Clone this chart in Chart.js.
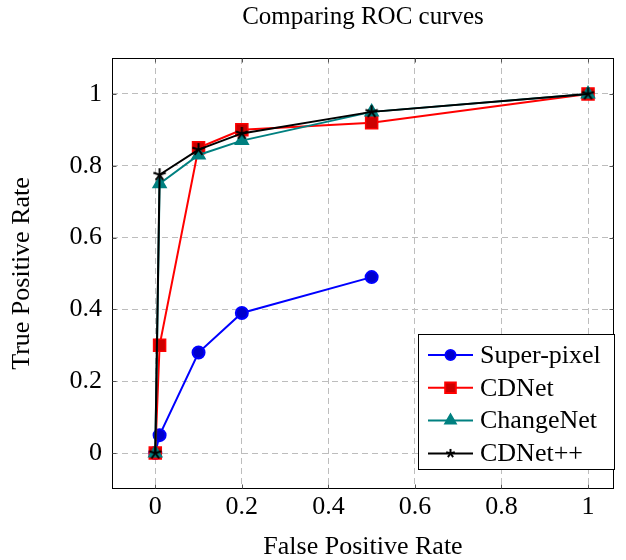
<!DOCTYPE html>
<html>
<head>
<meta charset="utf-8">
<script src="https://cdn.jsdelivr.net/npm/chart.js@4"></script>
<style>
  html, body { margin: 0; padding: 0; background: #fff; }
  #wrap { width: 626px; height: 560px; }
</style>
</head>
<body>
<div id="wrap"><canvas id="rocChart"></canvas></div>
<script>
// data
const seriesNames = ['Super-pixel', 'CDNet', 'ChangeNet', 'CDNet++'];
const superPixelX = [0, 0.01, 0.1, 0.2, 0.5];
const superPixelY = [0, 0.05, 0.28, 0.39, 0.49];
const cdnetX = [0, 0.01, 0.1, 0.2, 0.5, 1];
const cdnetY = [0, 0.30, 0.85, 0.90, 0.92, 1];
const changenetX = [0, 0.01, 0.1, 0.2, 0.5, 1];
const changenetY = [0, 0.75, 0.83, 0.87, 0.95, 1];
const cdnetPPX = [0, 0.01, 0.1, 0.2, 0.5, 1];
const cdnetPPY = [0, 0.775, 0.845, 0.89, 0.95, 1];
const xTicks = [0, 0.2, 0.4, 0.6, 0.8, 1];
const yTicks = [0, 0.2, 0.4, 0.6, 0.8, 1];

const serif = "'Liberation Serif', 'DejaVu Serif', serif";
const fontSize = 26;

function toPoints(xs, ys) {
  return xs.map((x, i) => ({ x: x, y: ys[i] }));
}

// 5 armed asterisk like the pgfplots "star" mark
function makeStar(size) {
  const c = document.createElement('canvas');
  c.width = size; c.height = size;
  const g = c.getContext('2d');
  const r = size / 2 - 1;
  g.strokeStyle = '#000';
  g.lineWidth = 2;
  for (let k = 0; k < 5; k++) {
    const a = -Math.PI / 2 + k * 2 * Math.PI / 5;
    g.beginPath();
    g.moveTo(size / 2, size / 2);
    g.lineTo(size / 2 + r * Math.cos(a), size / 2 + r * Math.sin(a));
    g.stroke();
  }
  return c;
}
const starMark = makeStar(15);
const starSmall = makeStar(11);

// legend drawn inside the plot, bottom right, like pgfplots
const insideLegend = {
  id: 'insideLegend',
  afterDraw(chart) {
    const ctx = chart.ctx;
    const area = chart.chartArea;
    const w = 197, h = 136;
    const right = area.right + 1;
    const bottom = area.bottom - 19;
    const left = right - w, top = bottom - h;
    ctx.save();
    ctx.fillStyle = '#fff';
    ctx.fillRect(left, top, w, h);
    ctx.strokeStyle = '#000';
    ctx.lineWidth = 1;
    ctx.strokeRect(left + 0.5, top + 0.5, w - 1, h - 1);
    ctx.font = fontSize + 'px ' + serif;
    ctx.textBaseline = 'middle';
    const ds = chart.data.datasets;
    // legend order follows seriesNames, not drawing order
    seriesNames.forEach((name, i) => {
      const d = ds.find(s => s.label === name);
      const cy = top + 21 + i * 32.8;
      ctx.strokeStyle = d.borderColor;
      ctx.lineWidth = 2;
      ctx.beginPath();
      ctx.moveTo(left + 10, cy);
      ctx.lineTo(left + 55, cy);
      ctx.stroke();
      ctx.fillStyle = d.pointBackgroundColor;
      ctx.strokeStyle = d.pointBorderColor;
      Chart.helpers.drawPoint(ctx, {
        pointStyle: d.label === 'CDNet++' ? starSmall : d.pointStyle,
        radius: d.pointRadius - 1,
        borderWidth: d.pointBorderWidth || 1
      }, left + 32.5, cy);
      ctx.fillStyle = '#000';
      ctx.fillText(name, left + 62, cy + 1);
    });
    ctx.restore();
  }
};

// solid frame round the plot with small inward ticks
const frame = {
  id: 'frame',
  beforeDatasetsDraw(chart) {
    const a = chart.chartArea;
    const c = chart.ctx;
    const xs = chart.scales.x, ys = chart.scales.y;
    const l = Math.round(a.left) + 0.5, t = Math.round(a.top) + 0.5;
    const r = Math.round(a.right) - 0.5, b = Math.round(a.bottom) - 0.5;
    c.save();
    c.strokeStyle = '#000';
    c.lineWidth = 1;
    c.setLineDash([]);
    c.strokeRect(l, t, r - l, b - t);
    c.strokeStyle = '#555';
    c.beginPath();
    xTicks.forEach(v => {
      const px = Math.round(xs.getPixelForValue(v)) + 0.5;
      c.moveTo(px, b); c.lineTo(px, b - 4);
      c.moveTo(px, t); c.lineTo(px, t + 4);
    });
    yTicks.forEach(v => {
      const py = Math.round(ys.getPixelForValue(v)) + 0.5;
      c.moveTo(l, py); c.lineTo(l + 4, py);
      c.moveTo(r, py); c.lineTo(r - 4, py);
    });
    c.stroke();
    c.restore();
  }
};

const ctx = document.getElementById('rocChart').getContext('2d');
new Chart(ctx, {
  type: 'line',
  data: {
    datasets: [
      {
        label: 'CDNet++',
        data: toPoints(cdnetPPX, cdnetPPY),
        borderColor: '#000',
        borderWidth: 2,
        pointStyle: starMark,
        pointRadius: 7,
        pointBackgroundColor: '#000',
        pointBorderColor: '#000',
        order: 0
      },
      {
        label: 'ChangeNet',
        data: toPoints(changenetX, changenetY),
        borderColor: '#008080',
        borderWidth: 2,
        pointStyle: 'triangle',
        pointRadius: 7,
        pointBackgroundColor: '#008080',
        pointBorderColor: '#008080',
        order: 1
      },
      {
        label: 'CDNet',
        data: toPoints(cdnetX, cdnetY),
        borderColor: '#ff0000',
        borderWidth: 2,
        pointStyle: 'rect',
        pointRadius: 8.5,
        pointBackgroundColor: '#cc0000',
        pointBorderColor: '#ff0000',
        pointBorderWidth: 1.5,
        order: 2
      },
      {
        label: 'Super-pixel',
        data: toPoints(superPixelX, superPixelY),
        borderColor: '#0000ff',
        borderWidth: 2,
        pointStyle: 'circle',
        pointRadius: 6,
        pointBackgroundColor: '#0000cc',
        pointBorderColor: '#0000ff',
        order: 3
      }
    ]
  },
  options: {
    responsive: true,
    maintainAspectRatio: false,
    animation: false,
    layout: { padding: { left: 9, right: 12, top: 0, bottom: 0 } },
    plugins: {
      legend: { display: false },
      tooltip: { enabled: false },
      title: {
        display: true,
        fullSize: false, // centre over the plot area, not the canvas
        text: 'Comparing ROC curves',
        color: '#000',
        font: { family: serif, size: 25, weight: 'normal', lineHeight: 1 },
        padding: { top: 5, bottom: 28 }
      }
    },
    scales: {
      x: {
        type: 'linear',
        min: -0.1,
        max: 1.06,
        afterBuildTicks: axis => { axis.ticks = xTicks.map(v => ({ value: v })); },
        afterFit: axis => { axis.height = 71; },
        ticks: {
          color: '#000',
          font: { family: serif, size: fontSize },
          padding: 3,
          maxRotation: 0,
          callback: v => String(v)
        },
        grid: { color: '#bdbdbd', drawTicks: false },
        border: { display: false, dash: [6, 4] },
        title: {
          display: true,
          text: 'False Positive Rate',
          color: '#000',
          font: { family: serif, size: fontSize, lineHeight: 1 },
          padding: { top: 0, bottom: 0 }
        }
      },
      y: {
        type: 'linear',
        min: -0.1,
        max: 1.1,
        afterBuildTicks: axis => { axis.ticks = yTicks.map(v => ({ value: v })); },
        afterFit: axis => { axis.width = 103; },
        ticks: {
          color: '#000',
          font: { family: serif, size: fontSize },
          padding: 10,
          callback: v => String(v)
        },
        grid: { color: '#bdbdbd', drawTicks: false },
        border: { display: false, dash: [6, 4] },
        title: {
          display: true,
          text: 'True Positive Rate',
          color: '#000',
          font: { family: serif, size: fontSize, lineHeight: 1 },
          padding: { top: 0, bottom: 0 }
        }
      }
    }
  },
  plugins: [insideLegend, frame]
});
</script>
</body>
</html>
